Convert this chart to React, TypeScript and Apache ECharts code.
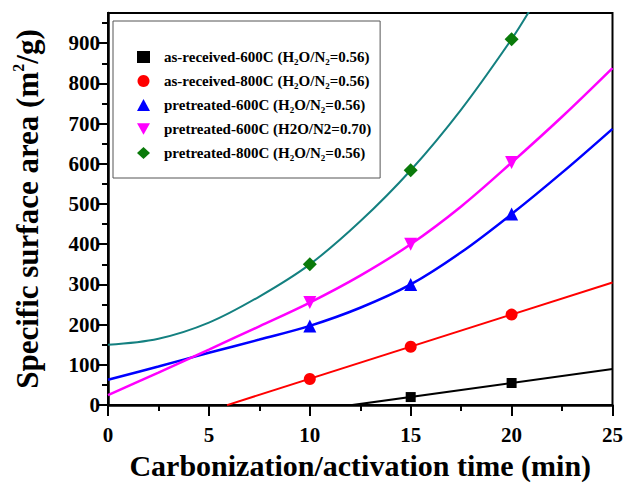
import React, { useEffect, useRef } from 'react';
import * as echarts from 'echarts';

// ---- data ----
const seriesNames = [
  'as-received-600C (H2O/N2=0.56)',
  'as-received-800C (H2O/N2=0.56)',
  'pretreated-600C (H2O/N2=0.56)',
  'pretreated-600C (H2O/N2=0.70)',
  'pretreated-800C (H2O/N2=0.56)',
];
const legendLabels = [
  'as-received-600C (H{s|2}O/N{s|2}=0.56)',
  'as-received-800C (H{s|2}O/N{s|2}=0.56)',
  'pretreated-600C (H{s|2}O/N{s|2}=0.56)',
  'pretreated-600C (H2O/N2=0.70)',
  'pretreated-800C (H{s|2}O/N{s|2}=0.56)',
];

const asReceived600Points = [[15, 20], [20, 55]];
const asReceived800Points = [[10, 65], [15, 145], [20, 225]];
const pretreated600Points = [[10, 197], [15, 300], [20, 475]];
const pretreated600bPoints = [[10, 255], [15, 400], [20, 603]];
const pretreated800Points = [[10, 350], [15, 584], [20, 910]];

const asReceived600Fit = [[12.1, 0], [25, 90]];
const asReceived800Fit = [[5.9, 0], [25, 305]];
const pretreated600Fit = [[0, 63], [2.5, 96], [5, 130], [7.5, 163], [10, 197], [12.5, 242], [15, 300], [17.5, 380], [20, 475], [22.5, 578], [25, 687]];
const pretreated600bFit = [[0, 25], [2.5, 81], [5, 138], [7.5, 196], [10, 255], [12.5, 322], [15, 400], [17.5, 494], [20, 603], [22.5, 717], [25, 838]];
const pretreated800Fit = [[0, 150], [2.5, 165], [5, 205], [7.5, 270], [10, 350], [12.5, 457], [15, 584], [17.5, 735], [20, 910], [21, 990]];

const yMajorTicks = [0, 100, 200, 300, 400, 500, 600, 700, 800, 900];
const yMinorTicks = [50, 150, 250, 350, 450, 550, 650, 750, 850, 950];

const FONT = "'Liberation Serif', 'Times New Roman', serif";

export default function App() {
  const ref = useRef<HTMLDivElement>(null);
  useEffect(() => {
    if (!ref.current) return;
    const chart = echarts.init(ref.current, undefined, { renderer: 'svg' });
    const fitLine = (data: number[][], color: string, width: number) => ({
      type: 'line',
      data,
      smooth: 0.35,
      showSymbol: false,
      symbol: 'none',
      lineStyle: { color, width },
      silent: true,
      z: 2,
    });
    const points = (name: string, data: number[][], symbol: string, size: number, color: string) => ({
      type: 'scatter',
      name,
      data,
      symbol,
      symbolSize: size,
      itemStyle: { color, opacity: 1 },
      z: 3,
    });
    chart.setOption({
      animation: false,
      backgroundColor: '#fff',
      grid: {
        left: 108, right: 13, top: 13, bottom: 78,
        show: true, borderColor: '#000', borderWidth: 2,
      },
      legend: {
        data: seriesNames,
        orient: 'vertical',
        left: 113,
        top: 21,
        padding: [27, 9, 16, 24],
        itemGap: 6,
        itemWidth: 13,
        itemHeight: 12,
        borderColor: '#555',
        borderWidth: 1,
        backgroundColor: '#fff',
        formatter: (name: string) => legendLabels[seriesNames.indexOf(name)],
        textStyle: {
          fontFamily: FONT, fontWeight: 'bold', fontSize: 15, color: '#000',
          lineHeight: 18, padding: [0, 0, 0, 9],
          rich: {
            s: { fontFamily: FONT, fontWeight: 'bold', fontSize: 9, color: '#000', verticalAlign: 'bottom', lineHeight: 8 },
          },
        },
      },
      xAxis: {
        type: 'value',
        min: 0, max: 25, interval: 5,
        name: 'Carbonization/activation time (min)',
        nameLocation: 'middle',
        nameGap: 43,
        nameTextStyle: { fontFamily: FONT, fontWeight: 'bold', fontSize: 30, color: '#000' },
        axisLine: { show: true, lineStyle: { color: '#000', width: 2.5 } },
        axisTick: { show: true, inside: false, length: 11, lineStyle: { color: '#000', width: 2 } },
        minorTick: { show: true, splitNumber: 2, length: 6, lineStyle: { color: '#000', width: 2 } },
        axisLabel: { fontFamily: FONT, fontWeight: 'bold', fontSize: 21, color: '#000', margin: 19 },
        splitLine: { show: false },
      },
      yAxis: [
        {
          type: 'value',
          min: 0, max: 975,
          interval: 100,
          name: 'Specific surface area (m{p|2}/g)',
          nameLocation: 'middle',
          nameGap: 64,
          nameTextStyle: {
            fontFamily: FONT, fontWeight: 'bold', fontSize: 31, color: '#000', lineHeight: 34,
            rich: { p: { fontFamily: FONT, fontWeight: 'bold', fontSize: 16, color: '#000', verticalAlign: 'top', lineHeight: 16 } },
          },
          axisLine: { show: true, lineStyle: { color: '#000', width: 2.5 } },
          axisTick: { show: true, length: 11, lineStyle: { color: '#000', width: 2 }, customValues: yMajorTicks },
          axisLabel: { fontFamily: FONT, fontWeight: 'bold', fontSize: 21, color: '#000', margin: 8, customValues: yMajorTicks },
          splitLine: { show: false },
        },
        {
          type: 'value',
          min: 0, max: 975,
          interval: 100,
          position: 'left',
          axisLine: { show: false },
          axisTick: { show: true, length: 6, lineStyle: { color: '#000', width: 2 }, customValues: yMinorTicks },
          axisLabel: { show: false },
          splitLine: { show: false },
        },
      ],
      series: [
        fitLine(asReceived600Fit, '#000000', 2),
        fitLine(asReceived800Fit, '#ff0000', 2),
        fitLine(pretreated600Fit, '#0000ff', 2.5),
        fitLine(pretreated600bFit, '#ff00ff', 2.5),
        fitLine(pretreated800Fit, '#148080', 2),
        points(seriesNames[0], asReceived600Points, 'rect', 10, '#000000'),
        points(seriesNames[1], asReceived800Points, 'circle', 12, '#ff0000'),
        points(seriesNames[2], pretreated600Points, 'triangle', 13, '#0000ff'),
        points(seriesNames[3], pretreated600bPoints, 'path://M0,0 L2,0 L1,1.8 Z', 13, '#ff00ff'),
        points(seriesNames[4], pretreated800Points, 'diamond', 14, '#0a7a0a'),
      ],
    });
    return () => chart.dispose();
  }, []);
  return <div ref={ref} style={{ width: 626, height: 485, position: 'absolute', left: 0, top: 0 }} />;
}
